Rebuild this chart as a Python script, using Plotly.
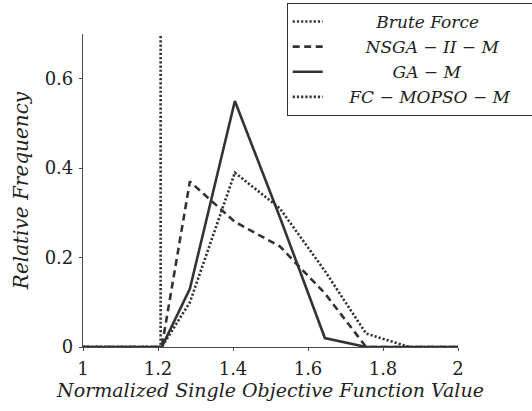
import plotly.graph_objects as go

# ---- data ----
x_bins = [1.0, 1.21, 1.285, 1.405, 1.525, 1.645, 1.755, 1.87, 2.0]
brute_x = [1.0, 1.207, 1.207]
brute_y = [0.0, 0.0, 1.0]
nsga_y = [0, 0, 0.37, 0.28, 0.225, 0.12, 0, 0, 0]
ga_y = [0, 0, 0.13, 0.55, 0.29, 0.02, 0, 0, 0]
fc_y = [0, 0, 0.10, 0.39, 0.31, 0.17, 0.03, 0, 0]

names = ["Brute Force", "NSGA − II − M", "GA − M", "FC − MOPSO − M"]
x_ticks = [1, 1.2, 1.4, 1.6, 1.8, 2]
y_ticks = [0, 0.2, 0.4, 0.6]

LC = "#333333"
AX = "#4a4a4a"
SERIF = "DejaVu Serif"
DOT = "2.2px,2px"
DASH = "7px,4.5px"
NB = "\u00a0"


def label(name, lead, trail=0):
    # centre the label inside the legend box like the reference
    return NB * lead + "<i>" + name + "</i>" + NB * trail


fig = go.Figure()
fig.add_trace(go.Scatter(x=brute_x, y=brute_y, mode="lines", name=label(names[0], 9),
                         line=dict(color=LC, width=2.6, dash=DOT)))
fig.add_trace(go.Scatter(x=x_bins, y=nsga_y, mode="lines", name=label(names[1], 7),
                         line=dict(color=LC, width=2.6, dash=DASH)))
fig.add_trace(go.Scatter(x=x_bins, y=ga_y, mode="lines", name=label(names[2], 12),
                         line=dict(color=LC, width=2.6)))
fig.add_trace(go.Scatter(x=x_bins, y=fc_y, mode="lines", name=label(names[3], 4, 4),
                         line=dict(color=LC, width=2.6, dash=DOT)))

fig.update_layout(
    width=532, height=411,
    margin=dict(l=83, r=74, t=34, b=64, autoexpand=False),
    paper_bgcolor="white", plot_bgcolor="white",
    font=dict(family=SERIF, size=18, color="#222222"),
    showlegend=True,
    legend=dict(x=286.7 / 532, y=1 - 3 / 411, xref="container", yref="container",
                xanchor="left", yanchor="top",
                bgcolor="white", bordercolor="#333333", borderwidth=1,
                font=dict(family=SERIF, size=17, color="#222222"),
                tracegroupgap=0, itemwidth=30),
    xaxis=dict(range=[1, 2], tickvals=x_ticks, showgrid=False, zeroline=False,
               automargin=False,
               showline=True, linecolor=AX, linewidth=1.2,
               ticks="outside", ticklen=3, tickcolor=AX, tickwidth=1,
               ticklabelstandoff=2,
               title=dict(text="<i>Normalized Single Objective Function Value</i>",
                          font=dict(family=SERIF, size=19), standoff=4)),
    yaxis=dict(range=[0, 0.7], tickvals=y_ticks, showgrid=False, zeroline=False,
               automargin=False,
               showline=True, linecolor=AX, linewidth=1.2,
               ticks="outside", ticklen=3, tickcolor=AX, tickwidth=1,
               ticklabelstandoff=2,
               title=dict(text="<i>Relative Frequency</i>",
                          font=dict(family=SERIF, size=20), standoff=10)),
)

# axis arrow heads
fig.add_annotation(x=2.009, y=0, xref="x", yref="y", ax=-12, ay=0,
                   showarrow=True, arrowhead=1, arrowsize=1, arrowwidth=1.2, arrowcolor=AX,
                   text="")
fig.add_annotation(x=1.0, y=0.705, xref="x", yref="y", ax=0, ay=12,
                   showarrow=True, arrowhead=1, arrowsize=1, arrowwidth=1.2, arrowcolor=AX,
                   text="")

fig.write_html("out.html", config={"displayModeBar": False},
               post_script="document.body.style.margin='0';")
